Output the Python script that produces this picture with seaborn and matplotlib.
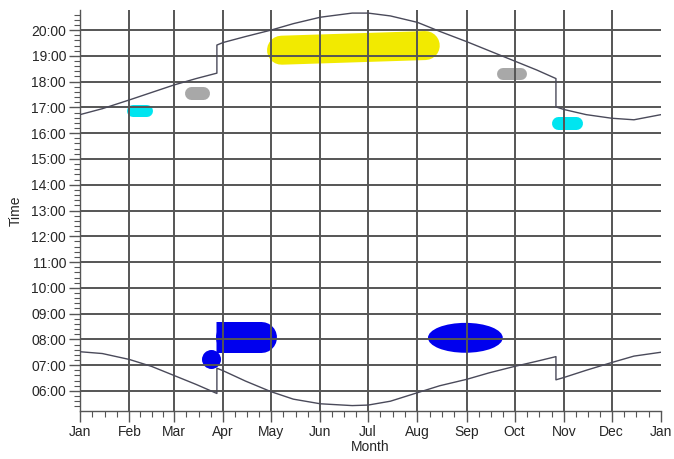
import numpy as np
import pandas as pd
import seaborn as sns
import matplotlib.pyplot as plt
from matplotlib.patches import Ellipse
from matplotlib.ticker import FuncFormatter, MultipleLocator, FixedLocator

# month starts (day of year) and labels
month_days = [0, 31, 59, 90, 120, 151, 181, 212, 243, 273, 304, 334, 365]
month_labels = ['Jan', 'Feb', 'Mar', 'Apr', 'May', 'Jun', 'Jul', 'Aug',
                'Sep', 'Oct', 'Nov', 'Dec', 'Jan']

# sunset (hours); repeated day = clock change
sunset_day = [0, 14, 31, 45, 59, 73, 86, 86, 90, 104, 120, 134, 151, 171, 181,
              195, 212, 226, 243, 257, 273, 287, 299, 299, 304, 318, 334, 348, 365]
sunset_hr = [16.72, 16.95, 17.29, 17.58, 17.87, 18.12, 18.33, 19.42, 19.52, 19.75,
             20.0, 20.25, 20.5, 20.66, 20.66, 20.55, 20.3, 19.95, 19.55, 19.2,
             18.8, 18.45, 18.12, 17.02, 16.92, 16.72, 16.58, 16.52, 16.72]

# sunrise (hours)
sunrise_day = [0, 14, 31, 45, 59, 73, 86, 86, 90, 104, 120, 134, 151, 171, 181,
               195, 212, 226, 243, 257, 273, 287, 299, 299, 304, 318, 334, 348, 365]
sunrise_hr = [7.52, 7.45, 7.22, 6.95, 6.6, 6.25, 5.9, 6.88, 6.78, 6.38,
              5.97, 5.68, 5.5, 5.43, 5.45, 5.6, 5.93, 6.2, 6.45, 6.7,
              6.95, 7.15, 7.33, 6.43, 6.52, 6.8, 7.1, 7.35, 7.5]

# painted highlight strokes: start/end day, hour, colour, thickness (px)
stroke_x0 = [126.6, 70.0, 265.7, 33.3, 300.6, 95.0]
stroke_x1 = [216.9, 77.5, 277.0, 42.1, 311.9, 114.0]
stroke_y0 = [19.22, 17.56, 18.29, 16.86, 16.38, 8.08]
stroke_y1 = [19.40, 17.56, 18.29, 16.86, 16.38, 8.08]
stroke_col = ['#f2ea00', '#a8a8a8', '#a8a8a8', '#00e5f0', '#00e5f0', '#0000ee']
stroke_w = [29, 13, 12, 12, 13, 31]

sns.set_theme(style='white')
plt.rcParams['font.family'] = ['Liberation Sans', 'DejaVu Sans']

fig = plt.figure(figsize=(6.74, 4.59), dpi=100)
ax = fig.add_axes([80 / 674, 1 - 411 / 459, 581 / 674, 401 / 459])

# brush strokes
for x0, x1, y0, y1, c, w in zip(stroke_x0, stroke_x1, stroke_y0, stroke_y1, stroke_col, stroke_w):
    ax.plot([x0, x1], [y0, y1], color=c, lw=w * 0.72, solid_capstyle='round', zorder=1)
# flat left side of the April blob + the little dab under it
ax.plot([85.4, 100], [8.08, 8.08], color='#0000ee', lw=31 * 0.72, solid_capstyle='butt', zorder=1)
ax.scatter([82.3], [7.22], s=(19 * 0.72) ** 2, color='#0000ee', linewidths=0, zorder=1)
# September blob
ax.add_patch(Ellipse((242.1, 8.06), 47, 1.16, color='#0000ee', lw=0, zorder=1))

sns.lineplot(x=sunset_day, y=sunset_hr, estimator=None, sort=False,
             color='#4a4a5a', lw=1, ax=ax, zorder=3)
sns.lineplot(x=sunrise_day, y=sunrise_hr, estimator=None, sort=False,
             color='#4a4a5a', lw=1, ax=ax, zorder=3)

# grid drawn by hand so the right edge has no line
for d in month_days[1:-1]:
    ax.axvline(d, color='#555555', lw=1.4, zorder=2)
for h in range(6, 21):
    ax.axhline(h, color='#555555', lw=1.4, zorder=2)

ax.set_xlim(0, 365)
ax.set_ylim(5.22, 20.78)

ax.xaxis.set_major_locator(FixedLocator(month_days))
ax.set_xticklabels(month_labels)
minor = []
for a, b in zip(month_days[:-1], month_days[1:]):
    minor += [a + (b - a) * k / 4 for k in (1, 2, 3)]
ax.xaxis.set_minor_locator(FixedLocator(minor))

ax.yaxis.set_major_locator(FixedLocator(range(6, 21)))
ax.yaxis.set_major_formatter(FuncFormatter(lambda v, p: '%02d:00' % int(round(v))))
ax.yaxis.set_minor_locator(MultipleLocator(0.2))
ax.grid(False)

for s in ['top', 'right']:
    ax.spines[s].set_visible(False)
for s in ['left', 'bottom']:
    ax.spines[s].set_color('#555555')
    ax.spines[s].set_linewidth(1)

ax.tick_params(which='major', direction='out', length=8, width=1, color='#555555',
               labelsize=10, left=True, bottom=True, pad=2)
ax.tick_params(which='minor', direction='out', length=4, width=0.8, color='#555555',
               left=True, bottom=True)

ax.set_xlabel('Month', fontsize=10, labelpad=1)
ax.set_ylabel('Time', fontsize=10, labelpad=6)

fig.savefig('out.png', dpi=100)
